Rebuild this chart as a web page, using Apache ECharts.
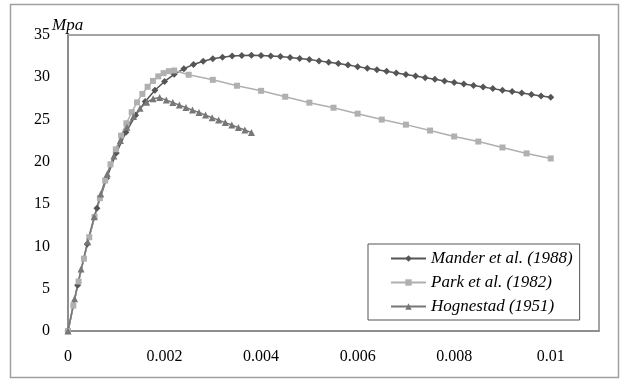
<!DOCTYPE html>
<html>
<head>
<meta charset="utf-8">
<script src="https://cdn.jsdelivr.net/npm/echarts@6/dist/echarts.min.js"></script>
<style>
  html, body { margin: 0; padding: 0; background: #fff; }
  #chart { width: 623px; height: 379px; }
</style>
</head>
<body>
<div id="chart"></div>
<script>
// stress-strain curves, strain on x, stress (Mpa) on y
var manderStrain = [0, 0.0002, 0.0004, 0.0006, 0.0008, 0.001, 0.0012, 0.0014, 0.0016, 0.0018,
  0.002, 0.0022, 0.0024, 0.0026, 0.0028, 0.003, 0.0032, 0.0034, 0.0036, 0.0038,
  0.004, 0.0042, 0.0044, 0.0046, 0.0048, 0.005, 0.0052, 0.0054, 0.0056, 0.0058,
  0.006, 0.0062, 0.0064, 0.0066, 0.0068, 0.007, 0.0072, 0.0074, 0.0076, 0.0078,
  0.008, 0.0082, 0.0084, 0.0086, 0.0088, 0.009, 0.0092, 0.0094, 0.0096, 0.0098, 0.01];
var manderStress = [0, 5.42, 10.29, 14.50, 18.07, 21.04, 23.50, 25.51, 27.14, 28.46,
  29.51, 30.35, 31.01, 31.52, 31.90, 32.18, 32.38, 32.51, 32.58, 32.60,
  32.58, 32.53, 32.45, 32.35, 32.23, 32.09, 31.94, 31.78, 31.62, 31.44,
  31.26, 31.08, 30.90, 30.71, 30.52, 30.33, 30.14, 29.95, 29.76, 29.57,
  29.39, 29.20, 29.02, 28.84, 28.66, 28.48, 28.31, 28.13, 27.96, 27.79, 27.63];

var parkStrain = [0, 0.00011, 0.00022, 0.00033, 0.00044, 0.00055, 0.00066, 0.00077, 0.00088, 0.00099,
  0.0011, 0.00121, 0.00132, 0.00143, 0.00154, 0.00165, 0.00176, 0.00187, 0.00198, 0.00209, 0.0022,
  0.0025, 0.003, 0.0035, 0.004, 0.0045, 0.005, 0.0055, 0.006, 0.0065, 0.007,
  0.0075, 0.008, 0.0085, 0.009, 0.0095, 0.01];
var parkStress = [0, 3.00, 5.85, 8.55, 11.09, 13.48, 15.71, 17.79, 19.71, 21.48,
  23.10, 24.56, 25.87, 27.03, 28.03, 28.88, 29.57, 30.11, 30.49, 30.72, 30.80,
  30.3, 29.7, 29.0, 28.4, 27.7, 27.0, 26.4, 25.7, 25.0, 24.4,
  23.7, 23.0, 22.4, 21.7, 21.0, 20.4];

var hogStrain = [0, 0.000136, 0.000271, 0.000407, 0.000543, 0.000679, 0.000814, 0.00095,
  0.001086, 0.001221, 0.001357, 0.001493, 0.001629, 0.001764, 0.0019,
  0.002036, 0.002171, 0.002307, 0.002443, 0.002579, 0.002714, 0.00285,
  0.002986, 0.003121, 0.003257, 0.003393, 0.003529, 0.003664, 0.0038];
var hogStress = [0, 3.80, 7.32, 10.56, 13.52, 16.19, 18.59, 20.70,
  22.53, 24.08, 25.35, 26.33, 27.04, 27.46, 27.60,
  27.30, 27.01, 26.71, 26.42, 26.12, 25.83, 25.53,
  25.23, 24.94, 24.64, 24.35, 24.05, 23.76, 23.46];

var seriesNames = ['Mander et al. (1988)', 'Park et al. (1982)', 'Hognestad (1951)'];

function pairs(xs, ys) {
  return xs.map(function (x, i) { return [x, ys[i]]; });
}

var serif = 'Liberation Serif';
var axisGray = '#868686';

var chart = echarts.init(document.getElementById('chart'));

var option = {
  animation: false,
  backgroundColor: '#fff',
  textStyle: { fontFamily: serif },
  graphic: [
    {
      type: 'rect',
      shape: { x: 10.5, y: 4.5, width: 608, height: 373 },
      style: { fill: 'none', stroke: '#a0a0a0', lineWidth: 1.5 },
      silent: true
    },
    {
      type: 'text',
      left: 52,
      top: 17,
      style: {
        text: 'Mpa',
        font: 'italic 17px "Liberation Serif"',
        fill: '#000'
      }
    }
  ],
  grid: {
    left: 68,
    right: 24,
    top: 35,
    bottom: 48,
    show: true,
    borderColor: axisGray,
    borderWidth: 1.5
  },
  legend: {
    data: seriesNames,
    orient: 'vertical',
    left: 368,
    top: 244,
    itemWidth: 35,
    itemHeight: 8,
    itemGap: 7,
    padding: [6, 7, 5, 22],
    borderColor: '#555',
    borderWidth: 1,
    backgroundColor: '#fff',
    textStyle: {
      fontFamily: serif,
      fontStyle: 'italic',
      fontSize: 17,
      color: '#000'
    }
  },
  xAxis: {
    type: 'value',
    min: 0,
    max: 0.011,
    interval: 0.002,
    axisLine: { lineStyle: { color: axisGray, width: 1.5 } },
    axisTick: { show: false },
    splitLine: { show: false },
    axisLabel: {
      showMaxLabel: false,
      margin: 18,
      color: '#000',
      fontFamily: serif,
      fontSize: 16
    }
  },
  yAxis: {
    type: 'value',
    min: 0,
    max: 35,
    interval: 5,
    axisLine: { show: true, lineStyle: { color: axisGray, width: 1.5 } },
    axisTick: { show: false },
    splitLine: { show: false },
    axisLabel: {
      margin: 18,
      color: '#000',
      fontFamily: serif,
      fontSize: 16
    }
  },
  series: [
    {
      name: seriesNames[0],
      type: 'line',
      data: pairs(manderStrain, manderStress),
      symbol: 'diamond',
      symbolSize: 7,
      showAllSymbol: true,
      lineStyle: { color: '#555555', width: 1.5 },
      itemStyle: { color: '#555555' }
    },
    {
      name: seriesNames[1],
      type: 'line',
      data: pairs(parkStrain, parkStress),
      symbol: 'rect',
      symbolSize: 6,
      showAllSymbol: true,
      lineStyle: { color: '#b0b0b0', width: 1.5 },
      itemStyle: { color: '#b0b0b0' }
    },
    {
      name: seriesNames[2],
      type: 'line',
      data: pairs(hogStrain, hogStress),
      symbol: 'triangle',
      symbolSize: 7,
      showAllSymbol: true,
      lineStyle: { color: '#777777', width: 1.5 },
      itemStyle: { color: '#777777' }
    }
  ]
};

chart.setOption(option);
</script>
</body>
</html>
